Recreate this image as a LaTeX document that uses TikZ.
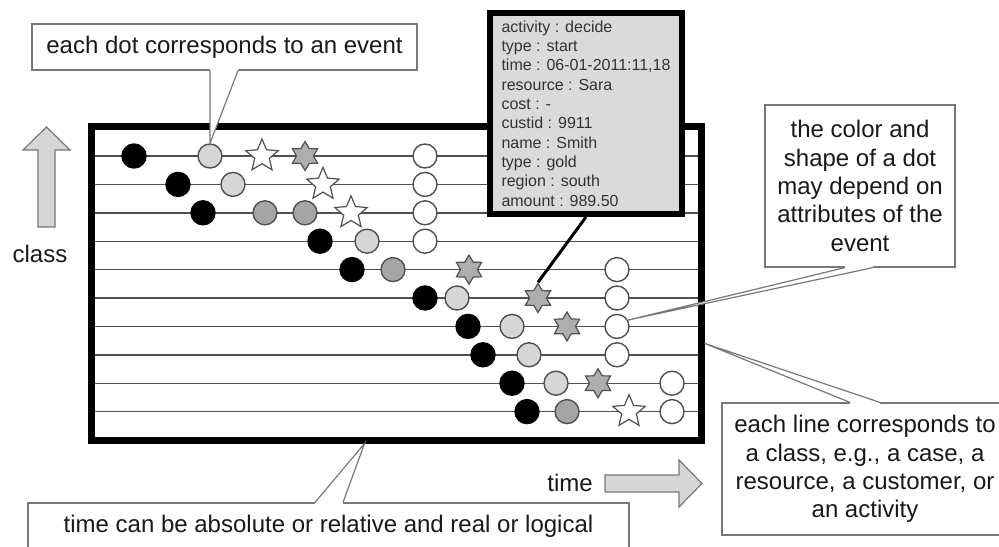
\documentclass[tikz,border=0pt]{standalone}
\usepackage{fontspec}
\setmainfont{Liberation Sans}
\usetikzlibrary{positioning,shapes.geometric,calc}
\definecolor{ChartInk}{RGB}{25,25,25}
\definecolor{ChartLine}{RGB}{80,80,80}
\definecolor{ChartLight}{RGB}{214,214,214}
\definecolor{ChartMid}{RGB}{165,165,165}
\definecolor{ChartNote}{RGB}{120,120,120}
\definecolor{ChartInfo}{RGB}{218,218,218}
\tikzset{
  chart dot/.style={circle, draw=ChartLine, line width=0.7pt, minimum size=12pt, inner sep=0pt},
  ev black/.style={chart dot, fill=black, draw=black},
  ev light/.style={chart dot, fill=ChartLight},
  ev mid/.style={chart dot, fill=ChartMid},
  ev open/.style={chart dot, fill=white},
  ev star/.style={star, star points=5, star point ratio=2.2, draw=ChartLine, line width=0.6pt, fill=white, minimum size=17pt, inner sep=0pt},
  ev hex/.style={star, star points=6, star point ratio=1.7, draw=ChartLine, line width=0.6pt, fill=ChartMid!90, minimum size=14.5pt, inner sep=0pt},
  chart row/.style={ChartLine, line width=0.7pt},
  chart frame/.style={draw=black, line width=3.5pt, minimum width=305pt, minimum height=157pt, inner sep=0pt},
  chart note/.style={draw=ChartNote, line width=0.6pt, fill=white, align=center, font=\fontsize{12}{14.2}\selectfont, text=ChartInk, inner sep=2pt},
  note tail/.style={draw=ChartNote, line width=0.6pt},
  chart info/.style={draw=black, line width=3pt, fill=ChartInfo, align=left, font=\fontsize{8}{9.65}\selectfont, text=black!80, minimum width=96pt, minimum height=100.5pt, inner sep=2pt},
  block arrow/.style={draw=ChartNote, fill=ChartLight, line width=0.6pt},
  axis label/.style={font=\fontsize{12}{14}\selectfont, text=ChartInk}
}

\begin{document}
\begin{tikzpicture}[x=0.5pt, y=-0.5pt]
\useasboundingbox (0,0) rectangle (999,546);
% class lines and frame
\foreach \r in {1,...,10}
  \draw[chart row] (91,{156+28.4*(\r-1)}) -- (701,{156+28.4*(\r-1)});
\node[chart frame] (plot) at (396,283) {};
% events
\foreach \x/\r/\k/\n in {134/1/ev black/b1, 210/1/ev light/l1, 262/1/ev star/s1, 305/1/ev hex/h1, 425/1/ev open/w1,
    178/2/ev black/b2, 233/2/ev light/l2, 323/2/ev star/s2, 425/2/ev open/w2,
    203/3/ev black/b3, 265/3/ev mid/m3, 305/3/ev mid/n3, 351/3/ev star/s3, 425/3/ev open/w3,
    320/4/ev black/b4, 367/4/ev light/l4, 425/4/ev open/w4,
    352/5/ev black/b5, 393/5/ev mid/m5, 469/5/ev hex/h5, 617/5/ev open/w5,
    425/6/ev black/b6, 457/6/ev light/l6, 538/6/ev hex/h6, 617/6/ev open/w6,
    468/7/ev black/b7, 512/7/ev light/l7, 567/7/ev hex/h7, 617/7/ev open/w7,
    483/8/ev black/b8, 529/8/ev light/l8, 617/8/ev open/w8,
    512/9/ev black/b9, 556/9/ev light/l9, 598/9/ev hex/h9, 672/9/ev open/w9,
    527/10/ev black/b10, 567/10/ev mid/m10, 629/10/ev star/s10, 672/10/ev open/w10}
  \node[\k] (\n) at (\x,{156+28.4*(\r-1)}) {};
% event attributes
\node[chart info] (info) at (586,113.5) {activity : decide\\type : start\\time : 06-01-2011:11,18\\resource : Sara\\cost : -\\custid : 9911\\name : Smith\\type : gold\\region : south\\amount : 989.50};
\draw[line width=1.5pt] (info.south) -- (h6.north);
% axes
\draw[block arrow] (38,227) -- (38,150) -- (23,150) -- (46.5,127) -- (70,150) -- (55,150) -- (55,227) -- cycle;
\node[axis label] (classlbl) at (40,254) {class};
\draw[block arrow] (605,475) -- (679,475) -- (679,460) -- (702,483.5) -- (679,507) -- (679,492) -- (605,492) -- cycle;
\node[axis label] (timelbl) at (570,483) {time};
% notes
\node[chart note, minimum width=192.5pt, minimum height=23pt] (dotnote) at (224.5,47) {each dot corresponds to an event};
\node[chart note, minimum width=95pt, minimum height=81pt] (colornote) at (860,186) {the color and\\shape of a dot\\may depend on\\attributes of the\\event};
\node[chart note, minimum width=143pt, minimum height=66pt] (linenote) at (865,469) {each line corresponds to\\a class, e.g., a case, a\\resource, a customer, or\\an activity};
\node[chart note, minimum width=300.5pt, minimum height=23.5pt] (timenote) at (328.5,526.5) {time can be absolute or relative and real or logical};
% note tails
\coordinate (dn a) at ($(dotnote.south)+(-14.5,0)$);
\coordinate (dn b) at ($(dotnote.south)+(13.5,0)$);
\fill[white] ($(dn a)+(0,-2)$) -- (dn a) -- (l1.north) -- (dn b) -- ($(dn b)+(0,-2)$) -- cycle;
\draw[note tail] (dn a) -- (l1.north) -- (dn b);
\coordinate (cn a) at ($(colornote.south)+(-15,0)$);
\coordinate (cn b) at ($(colornote.south)+(13,0)$);
\fill[white] ($(cn a)+(0,-2)$) -- (cn a) -- (w7.30) -- (cn b) -- ($(cn b)+(0,-2)$) -- cycle;
\draw[note tail] (cn a) -- (w7.30) -- (cn b);
\coordinate (ln tip) at ($(plot.north east)!0.688!(plot.south east)$);
\coordinate (ln a) at ($(linenote.north)+(-15,0)$);
\coordinate (ln b) at ($(linenote.north)+(15,0)$);
\fill[white] ($(ln a)+(0,2)$) -- (ln a) -- (ln tip) -- (ln b) -- ($(ln b)+(0,2)$) -- cycle;
\draw[note tail] (ln a) -- (ln tip) -- (ln b);
\coordinate (tn tip) at ($(plot.south west)!0.449!(plot.south east)$);
\coordinate (tn a) at ($(timenote.north)+(-13.5,0)$);
\coordinate (tn b) at ($(timenote.north)+(14.5,0)$);
\fill[white] ($(tn a)+(0,2)$) -- (tn a) -- (tn tip) -- (tn b) -- ($(tn b)+(0,2)$) -- cycle;
\draw[note tail] (tn a) -- (tn tip) -- (tn b);
\end{tikzpicture}
\end{document}
